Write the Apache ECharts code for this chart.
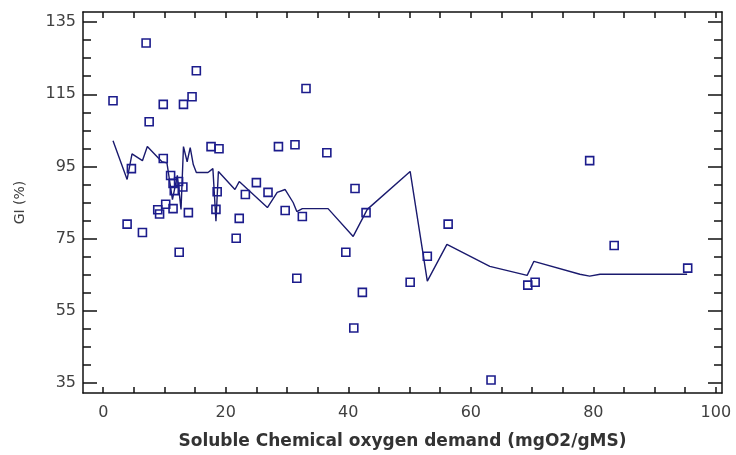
<!DOCTYPE html>
<html>
<head>
<meta charset="utf-8">
<script src="https://cdn.jsdelivr.net/npm/echarts@6/dist/echarts.min.js"></script>
<style>
html,body{margin:0;padding:0;background:#fff;}
#c{width:736px;height:455px;}
</style>
</head>
<body>
<div id="c"></div>
<script>
// Observed data (scatter)
var obsX = [1.6, 4.6, 3.9, 6.4, 7.0, 7.5, 9.8, 9.8, 8.9, 9.2, 10.2, 11.4, 13.9, 12.4, 13.1, 14.5, 15.2,
            11.0, 11.4, 12.3, 13.0, 11.6, 17.6, 18.9, 18.6, 18.4, 21.7, 22.2, 23.2, 25.0, 26.9, 28.6,
            31.3, 29.7, 32.5, 31.6, 33.1, 36.5, 39.6, 41.1, 42.9, 42.3, 40.9, 50.1, 52.9, 56.3, 63.3,
            69.3, 70.5, 79.4, 83.4, 95.4];
var obsY = [113.2, 94.4, 79.0, 76.7, 129.2, 107.4, 112.2, 97.2, 83.0, 81.8, 84.5, 83.3, 82.2, 71.2, 112.2, 114.3, 121.5,
            92.5, 90.3, 90.8, 89.3, 88.3, 100.5, 99.9, 88.0, 83.1, 75.1, 80.6, 87.2, 90.5, 87.8, 100.5,
            101.0, 82.8, 81.1, 64.0, 116.6, 98.8, 71.2, 88.9, 82.2, 60.1, 50.2, 62.9, 70.1, 79.0, 35.8,
            62.1, 62.9, 96.6, 73.1, 66.8];
// Model line
var fitX = [1.6, 3.9, 4.7, 6.4, 7.2, 8.8, 9.6, 10.4, 11.3, 12.1, 12.7, 13.1, 13.7, 14.2, 14.7, 15.2, 17.1, 17.9,
            18.4, 18.8, 19.1, 21.5, 22.2, 26.8, 28.4, 29.7, 31.0, 31.6, 32.5, 36.7, 40.8, 43.1, 50.1, 52.9,
            56.1, 63.1, 69.2, 70.3, 77.8, 79.4, 81.1, 95.3];
var fitY = [102.1, 91.4, 98.5, 96.6, 100.5, 97.7, 96.3, 96.0, 85.8, 92.5, 83.1, 100.5, 96.3, 100.2, 95.5, 93.3, 93.3, 94.4,
            79.8, 93.6, 93.6, 88.6, 90.8, 83.6, 87.8, 88.6, 85.0, 82.5, 83.3, 83.3, 75.6, 83.1, 93.6, 63.2,
            73.4, 67.3, 64.8, 68.7, 65.1, 64.6, 65.1, 65.1];
// Tick labels
var xLabels = [0, 20, 40, 60, 80, 100];
var xTicks = [0, 5, 10, 15, 20, 25, 30, 35, 40, 45, 50, 55, 60, 65, 70, 75, 80, 85, 90, 95, 100];
var yLabels = [35, 55, 75, 95, 115, 135];
var yTicks = [35, 40, 45, 50, 55, 60, 65, 70, 75, 80, 85, 90, 95, 100, 105, 110, 115, 120, 125, 130, 135];

var obs = obsX.map(function (x, i) { return [x, obsY[i]]; });
var fit = fitX.map(function (x, i) { return [x, fitY[i]]; });

var XMIN = -3.3, XMAX = 101, YMIN = 32.2, YMAX = 137.8;
var axisCol = '#111';
var FONT = 'DejaVu Sans, Verdana, sans-serif';
var labelStyle = { fontFamily: FONT, fontSize: 16, color: '#404040' };

function xAx(pos, labels) {
  return {
    type: 'value', min: XMIN, max: XMAX, position: pos,
    axisLine: { show: true, onZero: false, lineStyle: { color: axisCol, width: 1.5 } },
    axisTick: { show: true, inside: true, length: 6, customValues: xTicks, lineStyle: { color: axisCol, width: 1.5 } },
    axisLabel: labels ? Object.assign({ show: true, customValues: xLabels, margin: 12 }, labelStyle) : { show: false },
    splitLine: { show: false }
  };
}
function yAx(pos, ticks, len, line, labels) {
  return {
    type: 'value', min: YMIN, max: YMAX, position: pos,
    axisLine: { show: line, onZero: false, lineStyle: { color: axisCol, width: 1.5 } },
    axisTick: { show: true, inside: true, length: len, customValues: ticks, lineStyle: { color: axisCol, width: 1.5 } },
    axisLabel: labels ? Object.assign({ show: true, customValues: yLabels, margin: 7 }, labelStyle) : { show: false },
    splitLine: { show: false }
  };
}

var xa0 = xAx('bottom', true);
xa0.name = 'Soluble Chemical oxygen demand (mgO2/gMS)';
xa0.nameLocation = 'middle';
xa0.nameGap = 40;
xa0.nameTextStyle = { fontFamily: FONT, fontSize: 17, fontWeight: 'bold', color: '#333' };

var ya0 = yAx('left', yTicks, 8, true, true);
ya0.name = 'GI (%)';
ya0.nameLocation = 'middle';
ya0.nameGap = 56;
ya0.nameTextStyle = { fontFamily: FONT, fontSize: 14, color: '#404040' };

var chart = echarts.init(document.getElementById('c'), null, { renderer: 'canvas' });
chart.setOption({
  animation: false,
  backgroundColor: '#fff',
  grid: { left: 83, right: 14, top: 12, bottom: 62, containLabel: false },
  xAxis: [xa0, xAx('top', false)],
  yAxis: [
    ya0,
    yAx('left', yLabels, 14, false, false),
    yAx('right', yTicks, 8, true, false),
    yAx('right', yLabels, 14, false, false)
  ],
  series: [
    {
      type: 'line', data: fit, xAxisIndex: 0, yAxisIndex: 0,
      showSymbol: false, symbol: 'none',
      lineStyle: { color: '#1a1a6e', width: 1.4 }, z: 2
    },
    {
      type: 'scatter', data: obs, xAxisIndex: 0, yAxisIndex: 0,
      symbol: 'rect', symbolSize: 8,
      itemStyle: { color: 'rgba(255,255,255,0)', borderColor: '#1c1c8c', borderWidth: 1.6, opacity: 1 }, z: 3
    }
  ]
});
</script>
</body>
</html>
